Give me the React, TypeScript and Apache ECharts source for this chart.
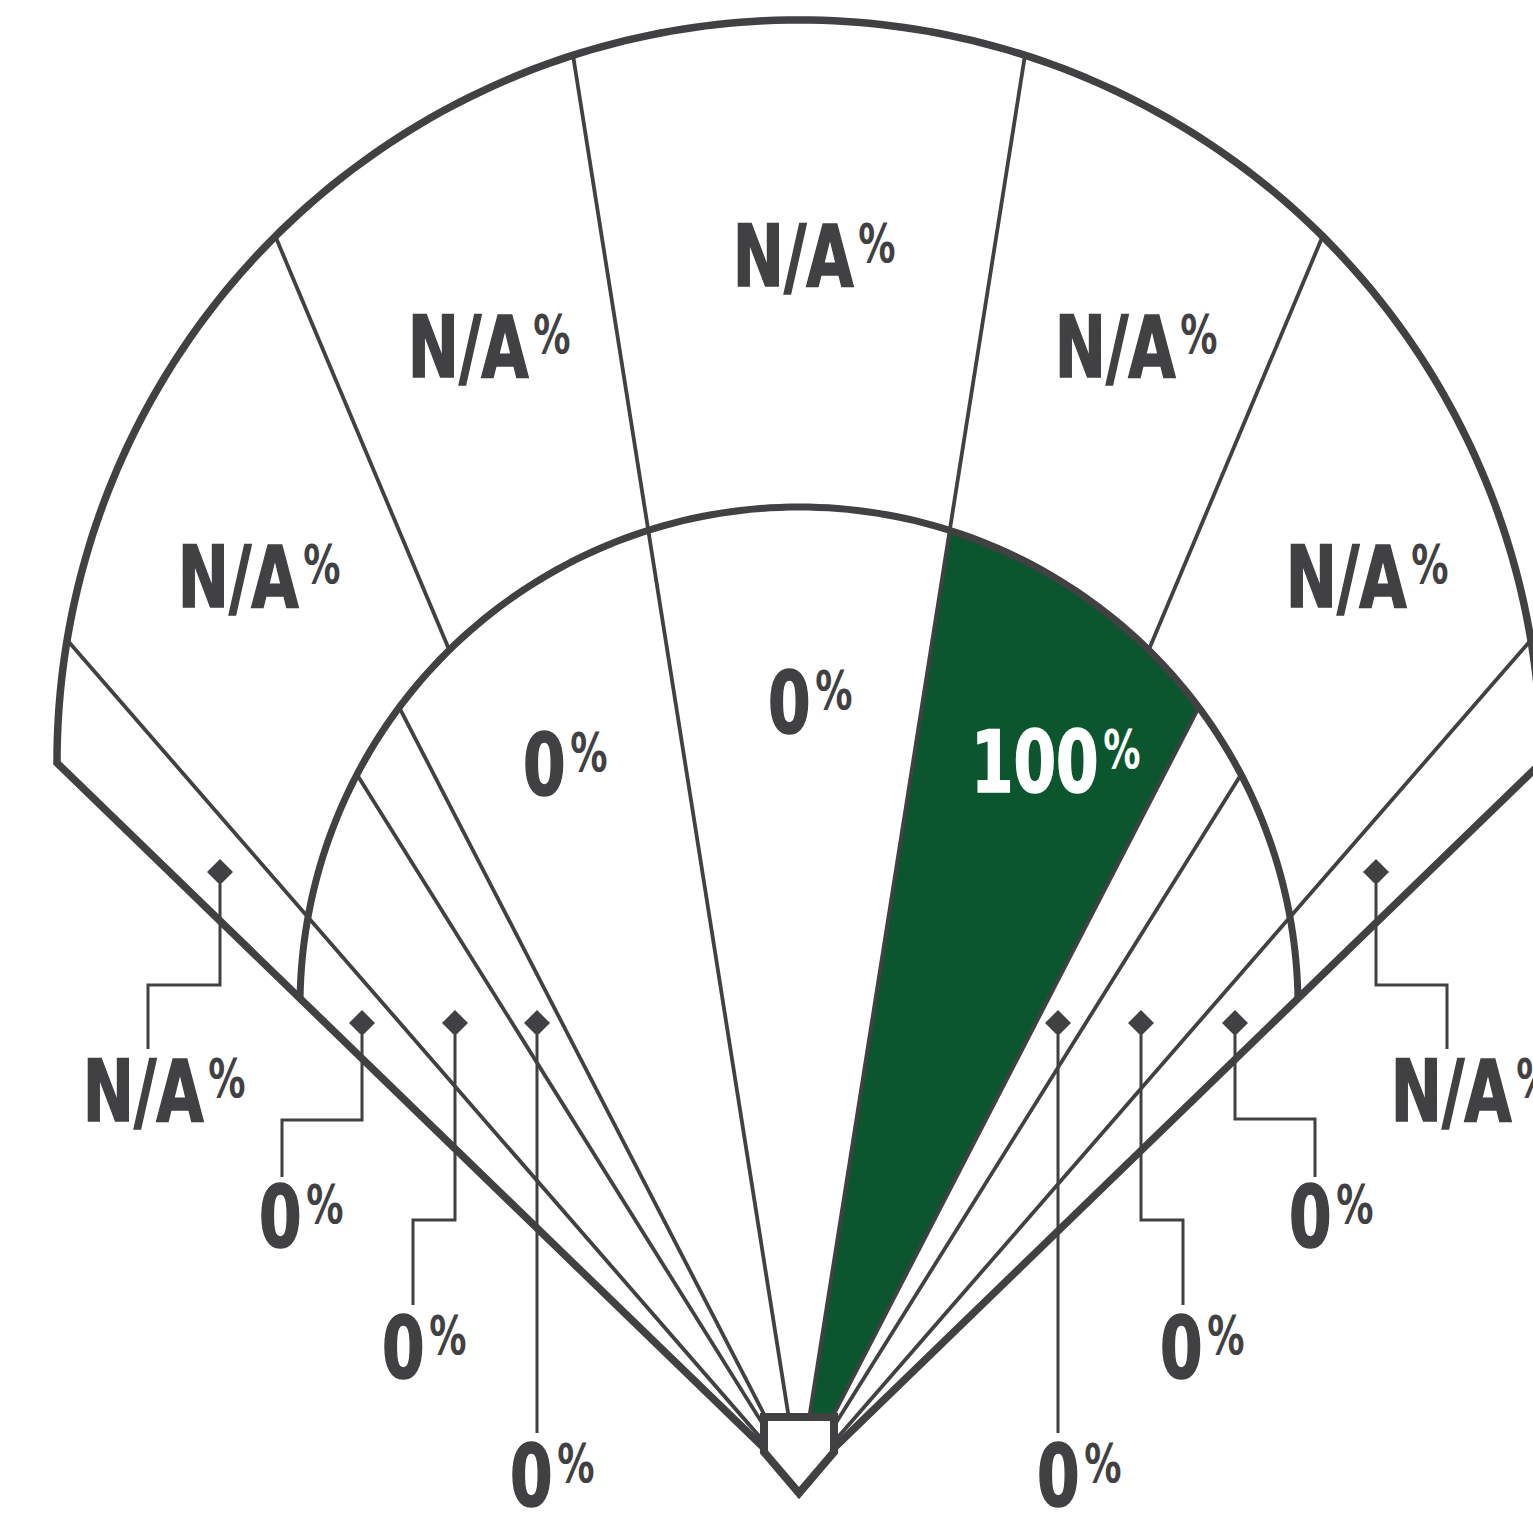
import React, { useEffect, useRef } from "react";
import * as echarts from "echarts";

// ---------- DATA ----------
const zoneNames = [
  "Left field line (deep)",
  "Left field",
  "Left-center",
  "Center field",
  "Right-center",
  "Right field",
  "Right field line (deep)",
  "Third base line",
  "Third base",
  "Shortstop hole",
  "Left side",
  "Up the middle",
  "Right side",
  "Second base hole",
  "First base",
  "First base line",
];
const zoneValues: (number | null)[] = [
  null, null, null, null, null, null, null,
  0, 0, 0, 0, 0, 100, 0, 0, 0,
];

// ---------- FIELD GEOMETRY (field units, home plate at origin, y up) ----------
const FOUL = 45.9;
const OUTER_WALL = { cy: 720, r: 742 };
const INFIELD_ARC = { cy: 476, r: 499 };
const zoneBand = ["out", "out", "out", "out", "out", "out", "out", "in", "in", "in", "in", "in", "in", "in", "in", "in"];
const zoneStart = [-FOUL, -41, -22.8, -9, 9, 22.8, 41, -FOUL, -41, -32, -27.3, -9, 9, 27.3, 32, 41];
const zoneEnd = [-41, -22.8, -9, 9, 22.8, 41, FOUL, -41, -32, -27.3, -9, 9, 27.3, 32, 41, FOUL];
// rays: angle, from, to
const rayAngles = [-41, -32, -27.3, -22.8, -9, 9, 22.8, 27.3, 32, 41];
const rayFrom = ["O", "O", "O", "in", "O", "O", "in", "O", "O", "O"];
const rayTo = ["out", "in", "in", "out", "out", "out", "out", "in", "in", "out"];
const PLATE: [number, number][] = [[-35, 65], [35, 65], [35, 30], [0, -11], [-35, 30]];

// ---------- LABEL LAYOUT (field units) ----------
const labelAnchor: [number, number][] = [
  [-593, 390], [-498, 904], [-268, 1134], [57, 1225], [379, 1134], [610, 904], [715, 390],
  [-495, 264], [-372, 133], [-244, 5], [-231, 716], [14, 778], [302, 719], [283, 5], [406, 133], [535, 264],
];
type Callout = { d: [number, number]; elbowY: number | null; endX: number; endY: number } | null;
const callouts: Callout[] = [
  { d: [-579, 610], elbowY: 497, endX: -651, endY: 433 },
  null, null, null, null, null,
  { d: [577, 610], elbowY: 497, endX: 648, endY: 433 },
  { d: [-437, 459], elbowY: 362, endX: -517, endY: 305 },
  { d: [-344, 459], elbowY: 262, endX: -386, endY: 177 },
  { d: [-262, 459], elbowY: null, endX: -262, endY: 49 },
  null, null, null,
  { d: [259, 459], elbowY: null, endX: 259, endY: 49 },
  { d: [342, 459], elbowY: 262, endX: 384, endY: 177 },
  { d: [436, 459], elbowY: 363, endX: 516, endY: 305 },
];

const INK = "#414042";
const GREEN = "#0b562e";
const FONT = "'DejaVu Sans Condensed', 'DejaVu Sans', sans-serif";

type Circle = { cy: number; r: number };
function rayPoint(theta: number, c: Circle): [number, number] {
  const a = (theta * Math.PI) / 180;
  const s = Math.sin(a), co = Math.cos(a);
  const b = c.cy * co;
  const t = b + Math.sqrt(b * b - c.cy * c.cy + c.r * c.r);
  return [t * s, t * co];
}
function arcPoints(t1: number, t2: number, c: Circle, n = 80): [number, number][] {
  const out: [number, number][] = [];
  for (let k = 0; k <= n; k++) out.push(rayPoint(t1 + ((t2 - t1) * k) / n, c));
  return out;
}
function endPoint(angle: number, where: string): [number, number] {
  if (where === "O") return [0, 0];
  return rayPoint(angle, where === "in" ? INFIELD_ARC : OUTER_WALL);
}

export default function App() {
  const ref = useRef<HTMLDivElement>(null);
  useEffect(() => {
    document.body.style.margin = "0";
    const chart = echarts.init(ref.current!, null, { renderer: "svg" });
    const zoneData = zoneNames.map((n, i) => ({ name: n, value: [i, 0] }));

    const option: any = {
      animation: false,
      backgroundColor: "#ffffff",
      grid: { left: 0, right: 0, top: 0, bottom: 0 },
      xAxis: { type: "value", min: -799, max: 734, show: false },
      yAxis: { type: "value", min: -36, max: 1482, show: false },
      series: [
        {
          type: "custom",
          name: "zones",
          z: 1,
          clip: false,
          data: zoneData,
          renderItem: (params: any, api: any) => {
            const i = params.dataIndex;
            const s = zoneStart[i], e = zoneEnd[i];
            const pts: [number, number][] =
              zoneBand[i] === "in"
                ? [[0, 0], ...arcPoints(s, e, INFIELD_ARC)]
                : [...arcPoints(s, e, INFIELD_ARC), ...arcPoints(e, s, OUTER_WALL)];
            const v = zoneValues[i];
            const fill = v === null ? "#ffffff" : echarts.color.lerp(v / 100, ["#ffffff", GREEN]);
            return {
              type: "polygon",
              shape: { points: pts.map((p) => api.coord(p)) },
              style: { fill, stroke: fill, lineWidth: 1 },
            };
          },
        },
        {
          type: "custom",
          name: "field",
          z: 2,
          clip: false,
          data: [{ value: [0, 0] }],
          renderItem: (params: any, api: any) => {
            const children: any[] = [];
            rayAngles.forEach((a, k) => {
              children.push({
                type: "polyline",
                shape: { points: [endPoint(a, rayFrom[k]), endPoint(a, rayTo[k])].map((p) => api.coord(p)) },
                style: { stroke: INK, lineWidth: 3.8, fill: "none" },
              });
            });
            children.push({
              type: "polyline",
              shape: { points: arcPoints(-FOUL, FOUL, INFIELD_ARC, 160).map((p) => api.coord(p)) },
              style: { stroke: INK, lineWidth: 7, fill: "none" },
            });
            const outline: [number, number][] = [[0, 0], ...arcPoints(-FOUL, FOUL, OUTER_WALL, 200), [0, 0]];
            children.push({
              type: "polyline",
              shape: { points: outline.map((p) => api.coord(p)) },
              style: { stroke: INK, lineWidth: 7.5, fill: "none", lineJoin: "miter" },
            });
            children.push({
              type: "polygon",
              shape: { points: PLATE.map((p) => api.coord(p)) },
              style: { stroke: INK, lineWidth: 8, fill: "#ffffff", lineJoin: "miter" },
            });
            return { type: "group", children };
          },
        },
        {
          type: "custom",
          name: "labels",
          z: 3,
          clip: false,
          data: zoneData,
          renderItem: (params: any, api: any) => {
            const i = params.dataIndex;
            const v = zoneValues[i];
            const children: any[] = [];
            const c = callouts[i];
            if (c) {
              const [dx, dy] = c.d;
              const pts: [number, number][] =
                c.elbowY === null
                  ? [[dx, dy - 12], [dx, c.endY]]
                  : [[dx, dy - 12], [dx, c.elbowY], [c.endX, c.elbowY], [c.endX, c.endY]];
              children.push({
                type: "polyline",
                shape: { points: pts.map((p) => api.coord(p)) },
                style: { stroke: INK, lineWidth: 3, fill: "none", lineJoin: "miter" },
              });
              const dm: [number, number][] = [[dx, dy + 13], [dx + 13, dy], [dx, dy - 13], [dx - 13, dy]];
              children.push({
                type: "polygon",
                shape: { points: dm.map((p) => api.coord(p)) },
                style: { fill: INK },
              });
            }
            const [px, py] = api.coord(labelAnchor[i]);
            const color = v !== null && v > 50 ? "#ffffff" : INK;
            children.push({
              type: "text",
              x: px,
              y: py,
              scaleX: 0.8,
              scaleY: 1,
              style: {
                text: v === null ? "N/A" : String(v),
                x: -3,
                y: 0,
                fill: color,
                stroke: color,
                lineWidth: 1.6,
                fontFamily: FONT,
                fontWeight: "bold",
                fontSize: 85,
                lineHeight: 62,
                align: "right",
                verticalAlign: "middle",
              },
            });
            children.push({
              type: "text",
              x: px,
              y: py,
              scaleX: 0.78,
              scaleY: 1,
              style: {
                text: "%",
                x: 3,
                y: -13,
                fill: color,
                fontFamily: FONT,
                fontWeight: "bold",
                fontSize: 53,
                lineHeight: 40,
                align: "left",
                verticalAlign: "middle",
              },
            });
            return { type: "group", children };
          },
        },
      ],
    };
    chart.setOption(option);
    return () => chart.dispose();
  }, []);
  return <div ref={ref} style={{ width: 1533, height: 1518 }} />;
}
